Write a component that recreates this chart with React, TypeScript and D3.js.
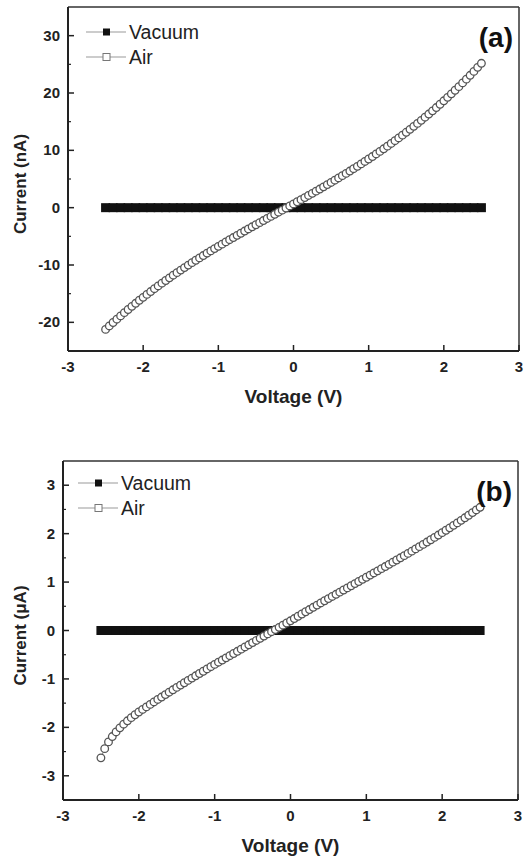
import React from 'react';
import * as d3 from 'd3';

// Voltage sweep for the Air series (V)
const voltage = [
  -2.5, -2.45, -2.4, -2.35, -2.3, -2.25, -2.2, -2.15, -2.1, -2.05,
  -2.0, -1.95, -1.9, -1.85, -1.8, -1.75, -1.7, -1.65, -1.6, -1.55,
  -1.5, -1.45, -1.4, -1.35, -1.3, -1.25, -1.2, -1.15, -1.1, -1.05,
  -1.0, -0.95, -0.9, -0.85, -0.8, -0.75, -0.7, -0.65, -0.6, -0.55,
  -0.5, -0.45, -0.4, -0.35, -0.3, -0.25, -0.2, -0.15, -0.1, -0.05,
  0.0, 0.05, 0.1, 0.15, 0.2, 0.25, 0.3, 0.35, 0.4, 0.45,
  0.5, 0.55, 0.6, 0.65, 0.7, 0.75, 0.8, 0.85, 0.9, 0.95,
  1.0, 1.05, 1.1, 1.15, 1.2, 1.25, 1.3, 1.35, 1.4, 1.45,
  1.5, 1.55, 1.6, 1.65, 1.7, 1.75, 1.8, 1.85, 1.9, 1.95,
  2.0, 2.05, 2.1, 2.15, 2.2, 2.25, 2.3, 2.35, 2.4, 2.45, 2.5,
];

// Panel (a): Air current (nA)
const airA = [
  -21.23, -20.63, -20.03, -19.45, -18.88, -18.31, -17.76, -17.21, -16.68, -16.15,
  -15.64, -15.13, -14.63, -14.13, -13.65, -13.17, -12.70, -12.24, -11.78, -11.33,
  -10.89, -10.45, -10.02, -9.59, -9.17, -8.76, -8.35, -7.94, -7.54, -7.14,
  -6.75, -6.36, -5.97, -5.59, -5.21, -4.83, -4.46, -4.08, -3.71, -3.34,
  -2.98, -2.61, -2.25, -1.88, -1.52, -1.16, -0.79, -0.43, -0.07, 0.30,
  0.66, 1.03, 1.39, 1.76, 2.13, 2.50, 2.88, 3.25, 3.63, 4.02,
  4.40, 4.79, 5.18, 5.58, 5.98, 6.39, 6.80, 7.21, 7.63, 8.06,
  8.49, 8.92, 9.37, 9.81, 10.27, 10.73, 11.20, 11.68, 12.16, 12.65,
  13.15, 13.66, 14.18, 14.70, 15.23, 15.78, 16.33, 16.89, 17.46, 18.04,
  18.64, 19.24, 19.85, 20.48, 21.11, 21.76, 22.42, 23.09, 23.77, 24.47, 25.18,
];

// Panel (b): Air current (µA)
const airB = [
  -2.63, -2.44, -2.30, -2.19, -2.095, -2.01, -1.935, -1.865, -1.80, -1.74,
  -1.683, -1.63, -1.578, -1.526, -1.475, -1.424, -1.374, -1.324, -1.274, -1.224,
  -1.175, -1.127, -1.079, -1.03, -0.983, -0.935, -0.888, -0.841, -0.794, -0.747,
  -0.70, -0.655, -0.61, -0.565, -0.52, -0.475, -0.43, -0.385, -0.34, -0.295,
  -0.25, -0.205, -0.16, -0.115, -0.07, -0.025, 0.02, 0.065, 0.11, 0.155,
  0.20, 0.247, 0.294, 0.341, 0.387, 0.433, 0.479, 0.524, 0.569, 0.614,
  0.659, 0.703, 0.748, 0.792, 0.836, 0.880, 0.924, 0.968, 1.012, 1.056,
  1.10, 1.144, 1.188, 1.232, 1.277, 1.321, 1.366, 1.411, 1.456, 1.501,
  1.546, 1.592, 1.638, 1.685, 1.731, 1.778, 1.826, 1.874, 1.922, 1.971,
  2.02, 2.07, 2.12, 2.171, 2.222, 2.274, 2.327, 2.38, 2.434, 2.489, 2.544,
];

// Voltage sweep for the Vacuum series (V)
const vacuumVoltage = [
  -2.5, -2.4, -2.3, -2.2, -2.1, -2.0, -1.9, -1.8, -1.7, -1.6,
  -1.5, -1.4, -1.3, -1.2, -1.1, -1.0, -0.9, -0.8, -0.7, -0.6,
  -0.5, -0.4, -0.3, -0.2, -0.1, 0.0, 0.1, 0.2, 0.3, 0.4,
  0.5, 0.6, 0.7, 0.8, 0.9, 1.0, 1.1, 1.2, 1.3, 1.4,
  1.5, 1.6, 1.7, 1.8, 1.9, 2.0, 2.1, 2.2, 2.3, 2.4, 2.5,
];

// Vacuum current (nA) for panel (a)
const vacuumA = [
  0, 0, 0, 0, 0, 0, 0, 0, 0, 0,
  0, 0, 0, 0, 0, 0, 0, 0, 0, 0,
  0, 0, 0, 0, 0, 0, 0, 0, 0, 0,
  0, 0, 0, 0, 0, 0, 0, 0, 0, 0,
  0, 0, 0, 0, 0, 0, 0, 0, 0, 0, 0,
];

// Vacuum current (µA) for panel (b)
const vacuumB = [
  0, 0, 0, 0, 0, 0, 0, 0, 0, 0,
  0, 0, 0, 0, 0, 0, 0, 0, 0, 0,
  0, 0, 0, 0, 0, 0, 0, 0, 0, 0,
  0, 0, 0, 0, 0, 0, 0, 0, 0, 0,
  0, 0, 0, 0, 0, 0, 0, 0, 0, 0, 0,
];

const xTicks = [-3, -2, -1, 0, 1, 2, 3];
const yTicksA = [-20, -10, 0, 10, 20, 30];
const yMinorA = [-15, -5, 5, 15, 25];
const yTicksB = [-3, -2, -1, 0, 1, 2, 3];
const yMinorB = [-2.5, -1.5, -0.5, 0.5, 1.5, 2.5];
const seriesNames = ['Vacuum', 'Air'];

const FONT = '"Liberation Sans", Arial, Helvetica, sans-serif';

type PanelProps = {
  left: number;
  right: number;
  top: number;
  bottom: number;
  yDomain: [number, number];
  yTicks: number[];
  yMinor: number[];
  air: number[];
  vacuum: number[];
  yTitle: string;
  tag: string;
  legendX: number;
  legendY: number;
};

function Panel(p: PanelProps) {
  const x = d3.scaleLinear().domain([-3, 3]).range([p.left, p.right]);
  const y = d3.scaleLinear().domain(p.yDomain).range([p.bottom, p.top]);
  const airLine = d3
    .line<number>()
    .x((_, i) => x(voltage[i]))
    .y((d) => y(d));
  const sq = 9;
  const cx = (p.left + p.right) / 2;
  const cy = (p.top + p.bottom) / 2;
  return (
    <g>
      {/* frame */}
      <line x1={p.left} x2={p.right} y1={p.top} y2={p.top} stroke="#333" strokeWidth={1.5} />
      <line x1={p.right} x2={p.right} y1={p.top} y2={p.bottom} stroke="#333" strokeWidth={1.5} />
      <line x1={p.left} x2={p.left} y1={p.top} y2={p.bottom} stroke="#222" strokeWidth={2} />
      <line x1={p.left} x2={p.right} y1={p.bottom} y2={p.bottom} stroke="#222" strokeWidth={2} />

      {/* x ticks */}
      {xTicks.map((t) => (
        <g key={'x' + t}>
          <line x1={x(t)} x2={x(t)} y1={p.bottom} y2={p.bottom - 6} stroke="#222" strokeWidth={1.5} />
          <text
            x={x(t)}
            y={p.bottom + 21}
            textAnchor="middle"
            fontFamily={FONT}
            fontWeight="bold"
            fontSize={15}
            fill="#222"
          >
            {t}
          </text>
        </g>
      ))}
      {/* y ticks */}
      {p.yTicks.map((t) => (
        <g key={'y' + t}>
          <line x1={p.left} x2={p.left + 6} y1={y(t)} y2={y(t)} stroke="#222" strokeWidth={1.5} />
          <text
            x={p.left - 8}
            y={y(t) + 5}
            textAnchor="end"
            fontFamily={FONT}
            fontWeight="bold"
            fontSize={15}
            fill="#222"
          >
            {t}
          </text>
        </g>
      ))}
      {p.yMinor.map((t) => (
        <line key={'m' + t} x1={p.left} x2={p.left + 3} y1={y(t)} y2={y(t)} stroke="#222" strokeWidth={1.2} />
      ))}

      {/* axis titles */}
      <text
        x={cx}
        y={p.bottom + 52}
        textAnchor="middle"
        fontFamily={FONT}
        fontWeight="bold"
        fontSize={19}
        fill="#222"
      >
        Voltage (V)
      </text>
      <text
        transform={`translate(${26},${cy + 5}) rotate(-90)`}
        textAnchor="middle"
        fontFamily={FONT}
        fontWeight="bold"
        fontSize={17}
        fill="#222"
      >
        {p.yTitle}
      </text>

      {/* Vacuum */}
      <path
        d={d3.line<number>().x((_, i) => x(vacuumVoltage[i])).y((d) => y(d))(p.vacuum) || ''}
        stroke="#888"
        strokeWidth={1}
        fill="none"
      />
      {p.vacuum.map((d, i) => (
        <rect
          key={'v' + i}
          x={x(vacuumVoltage[i]) - sq / 2}
          y={y(d) - sq / 2}
          width={sq}
          height={sq}
          fill="#111"
        />
      ))}

      {/* Air */}
      <path d={airLine(p.air) || ''} stroke="#888" strokeWidth={1} fill="none" />
      {p.air.map((d, i) => (
        <circle
          key={'a' + i}
          cx={x(voltage[i])}
          cy={y(d)}
          r={3.8}
          fill="#fff"
          stroke="#555"
          strokeWidth={1.3}
        />
      ))}

      {/* legend */}
      <g>
        <line x1={p.legendX} x2={p.legendX + 40} y1={p.legendY} y2={p.legendY} stroke="#999" strokeWidth={1} />
        <rect x={p.legendX + 17} y={p.legendY - 3.5} width={7} height={7} fill="#111" />
        <text
          x={p.legendX + 43}
          y={p.legendY + 7}
          fontFamily={FONT}
          fontSize={19.5}
          fill="#222"
        >
          {seriesNames[0]}
        </text>
        <line x1={p.legendX} x2={p.legendX + 40} y1={p.legendY + 25} y2={p.legendY + 25} stroke="#999" strokeWidth={1} />
        <rect
          x={p.legendX + 17}
          y={p.legendY + 25 - 3.5}
          width={7}
          height={7}
          fill="#fff"
          stroke="#777"
          strokeWidth={1}
        />
        <text
          x={p.legendX + 43}
          y={p.legendY + 32}
          fontFamily={FONT}
          fontSize={19.5}
          fill="#222"
        >
          {seriesNames[1]}
        </text>
      </g>

      {/* panel tag */}
      <text
        x={p.right - 6}
        y={p.top + 40}
        textAnchor="end"
        fontFamily={FONT}
        fontWeight="bold"
        fontSize={28}
        fill="#111"
      >
        {p.tag}
      </text>
    </g>
  );
}

export default function App() {
  return (
    <svg
      width={529}
      height={857}
      viewBox="0 0 529 857"
      style={{ position: 'absolute', left: 0, top: 0, background: '#fff' }}
    >
      <rect x={0} y={0} width={529} height={857} fill="#fff" />
      <Panel
        left={68}
        right={519}
        top={7}
        bottom={351}
        yDomain={[-25, 35]}
        yTicks={yTicksA}
        yMinor={yMinorA}
        air={airA}
        vacuum={vacuumA}
        yTitle="Current (nA)"
        tag="(a)"
        legendX={86}
        legendY={32}
      />
      <Panel
        left={63}
        right={518}
        top={461}
        bottom={800}
        yDomain={[-3.5, 3.5]}
        yTicks={yTicksB}
        yMinor={yMinorB}
        air={airB}
        vacuum={vacuumB}
        yTitle="Current (μA)"
        tag="(b)"
        legendX={78}
        legendY={483}
      />
    </svg>
  );
}
